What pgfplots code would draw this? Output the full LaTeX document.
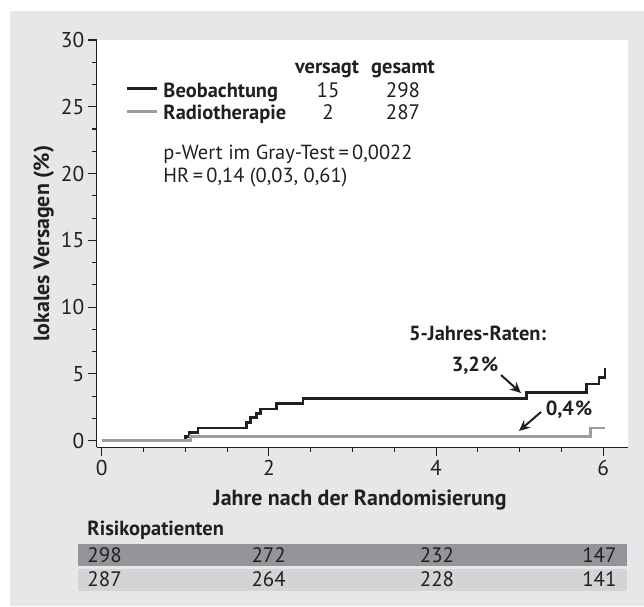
\documentclass[border=0pt]{standalone}
\usepackage{fontspec}
\setmainfont{PT Sans}
\usepackage{pgfplots}
\pgfplotsset{compat=1.18}
\usetikzlibrary{arrows.meta}
\definecolor{panel}{HTML}{E6E7E8}
\definecolor{rowA}{HTML}{939598}
\definecolor{rowB}{HTML}{D3D4D6}
\definecolor{ink}{HTML}{231F20}
\definecolor{curveB}{HTML}{9D9EA0}
\newcommand\fs{\fontsize{20.5}{22}\selectfont}
\newcommand\fn{\fontsize{21}{22}\selectfont}
\begin{document}
\begin{tikzpicture}
\begin{scope}[x=1bp,y=-1bp]
\fill[white] (0,0) rectangle (644,607);
\fill[panel] (10,11) rectangle (644,605.7);
\end{scope}
\begin{axis}[
  at={(96.7bp,-447.3bp)}, anchor=south west,
  scale only axis, width=531.6bp, height=407.3bp,
  xmin=-0.06, xmax=6.3, ymin=-0.5, ymax=30,
  axis lines=left, axis line style={-, line width=1.2bp, ink},
  axis background/.style={fill=white},
  xtick={0,2,4,6}, minor x tick num=3,
  ytick={0,5,...,30}, minor y tick num=2,
  tick align=outside, major tick length=9bp, minor tick length=4.5bp,
  every tick/.style={line width=1.1bp, ink},
  ticklabel style={font=\fontsize{21.5}{22}\selectfont, text=ink},
  /pgf/number format/assume math mode=true,
  xlabel={Jahre nach der Randomisierung},
  ylabel={lokales Versagen (\%)},
  every axis x label/.style={at={(axis description cs:0.4953,-0.1434)}, anchor=base, font=\bfseries\fontsize{22}{24}\selectfont, text=ink, inner sep=0pt},
  every axis y label/.style={at={(axis description cs:-0.0897,0.5)}, rotate=90, anchor=base, font=\bfseries\fontsize{22}{24}\selectfont, text=ink, inner sep=0pt},
  clip=false,
]
\addplot[ink, line width=2.6bp, const plot] coordinates {
(0,0) (1.005,0.3) (1.045,0.62) (1.15,0.95) (1.73,1.37) (1.78,1.72) (1.85,2.05) (1.90,2.37) (2.09,2.79) (2.41,3.15) (5.08,3.62) (5.80,4.24) (5.95,4.74) (6.02,5.44)};
\addplot[curveB, line width=2.6bp, const plot] coordinates {
(0,0) (1.065,0.3) (5.85,0.95) (6.02,0.95)};
\end{axis}
\begin{scope}[x=1bp,y=-1bp, every node/.style={inner sep=0pt, text=ink, font=\fs}]
% legend
\draw[ink, line width=2.6bp] (126.7,88.3) -- (156.7,88.3);
\draw[curveB, line width=2.6bp] (126.7,111.7) -- (156.7,111.7);
\node[anchor=base west, font=\bfseries\fs] at (163.3,97.3) {Beobachtung};
\node[anchor=base west, font=\bfseries\fs] at (163.3,119.5) {Radiotherapie};
\node[anchor=base, font=\bfseries\fs] at (327,73) {versagt};
\node[anchor=base, font=\bfseries\fs] at (403,73) {gesamt};
\node[anchor=base, font=\fn] at (328,97.3) {15};
\node[anchor=base, font=\fn] at (403,97.3) {298};
\node[anchor=base, font=\fn] at (328,119.5) {2};
\node[anchor=base, font=\fn] at (403,119.5) {287};
\node[anchor=base west] at (163.3,159.3) {p-Wert im Gray-Test\,=\,0,0022};
\node[anchor=base west] at (163.3,182.7) {HR\,=\,0,14 (0,03, 0,61)};
% annotations
\node[anchor=base, font=\bfseries\fs] at (477.5,340) {5-Jahres-Raten:};
\node[anchor=base, font=\bfseries\fs] at (475,371.7) {3,2\kern1bp\%};
\node[anchor=base, font=\bfseries\fs] at (569,415.7) {0,4\kern1bp\%};
\draw[ink, line width=2bp, -{Stealth[length=11bp,width=10bp]}] (501,375) -- (521,393);
\draw[ink, line width=2bp, -{Stealth[length=11bp,width=10bp]}] (541,412) -- (519,431);
% risk table
\node[anchor=base west, font=\bfseries\fs] at (87.3,535.7) {Risikopatienten};
\fill[rowA] (78,544) rectangle (627.3,565.7);
\fill[rowB] (78,569) rectangle (627.3,591.3);
\node[anchor=base west, font=\fn] at (87.3,562.3) {298};
\node[anchor=base, font=\fn] at (268.7,562.3) {272};
\node[anchor=base, font=\fn] at (437,562.3) {232};
\node[anchor=base east, font=\fn] at (616.7,562.3) {147};
\node[anchor=base west, font=\fn] at (87.3,586.7) {287};
\node[anchor=base, font=\fn] at (268.7,586.7) {264};
\node[anchor=base, font=\fn] at (437,586.7) {228};
\node[anchor=base east, font=\fn] at (616.7,586.7) {141};
\end{scope}
\pgfresetboundingbox
\path (0,0) rectangle (644bp,-607bp);
\end{tikzpicture}
\end{document}
